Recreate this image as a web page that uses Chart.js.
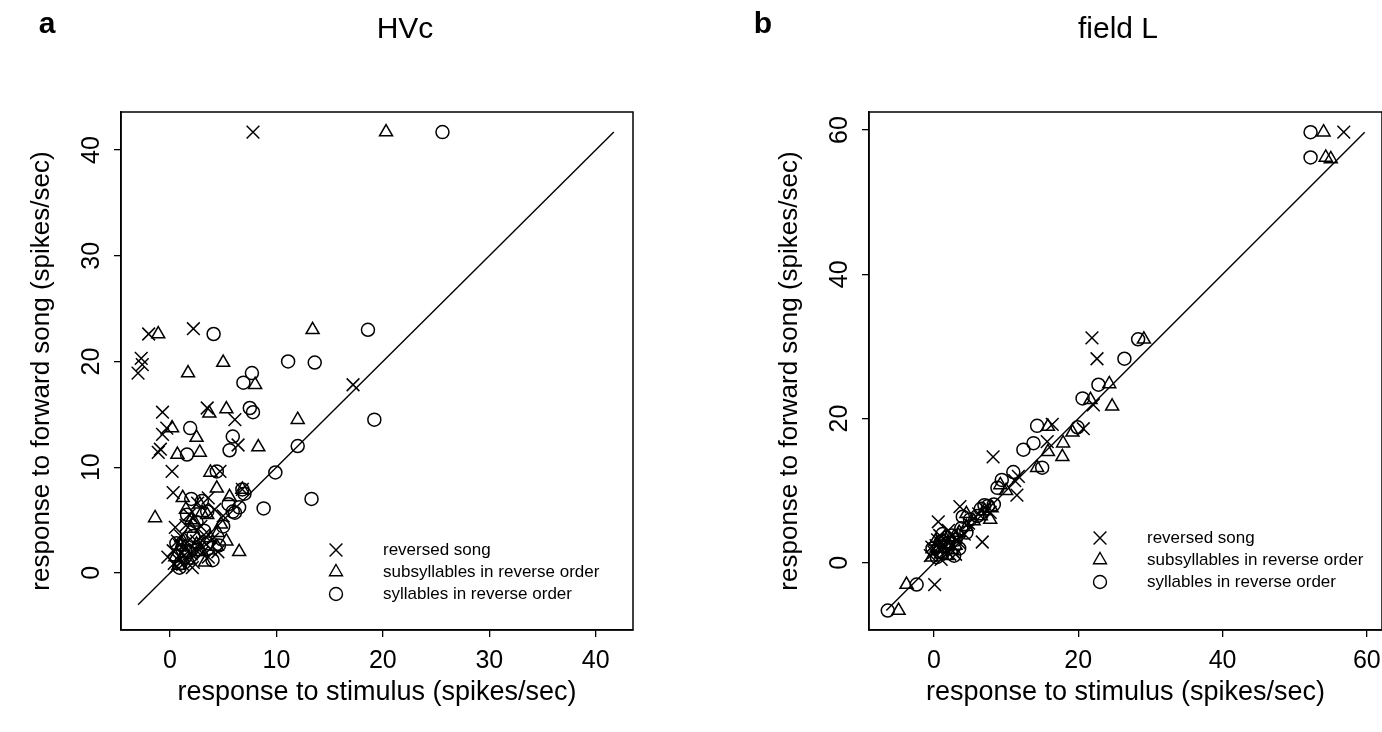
<!DOCTYPE html>
<html>
<head>
<meta charset="utf-8">
<script src="https://cdn.jsdelivr.net/npm/chart.js"></script>
<style>
html, body { margin: 0; padding: 0; background: #fff; overflow: hidden; width: 1382px; height: 732px; }
.panel { position: absolute; top: 0; height: 732px; }
</style>
</head>
<body>
<div class="panel" style="left:0px; width:691px"><canvas id="grafico-hvc" width="691" height="732"></canvas></div>
<div class="panel" style="left:691px; width:720px"><canvas id="grafico-fieldl" width="720" height="732"></canvas></div>
<script>
// ---- dati (spikes/sec) ----
// pannello a, HVc
var hvcRevX = [7.8, -2.0, 2.2, -2.7, -2.6, -3.0, -0.7, 3.5, 6.1, -0.3, -0.7, 6.4, -1.1, -0.9, 17.2, 0.2, 4.7, 6.8, 0.3, 3.6, 0.5, 1.0, 1.5, 0.3, 2.0, 2.5, 0.8, 1.2, 2.8, 3.2, 4.0, 1.8, 0.6, 2.2, 3.0, 0.9, 5.0, 4.2, 1.5, 2.6, 3.6, 3.8, -0.2, 1.3, 2.4, 0.4, 1.9, 3.4, 0.7, 2.9, 1.1, 4.5, 2.1];
var hvcRevY = [41.7, 22.6, 23.1, 20.3, 19.7, 18.9, 15.2, 15.6, 14.5, 13.7, 13.1, 12.1, 11.4, 11.7, 17.8, 9.6, 9.6, 7.9, 7.6, 1.5, 4.3, 3.5, 2.8, 2.1, 1.8, 3.0, 1.2, 0.8, 2.4, 3.6, 3.2, 5.5, 0.6, 1.0, 1.9, 2.6, 5.4, 6.0, 4.5, 6.6, 7.1, 2.3, 1.5, 1.6, 2.2, 0.9, 3.2, 2.7, 3.0, 4.4, 1.9, 2.0, 0.5];
var hvcSubX = [20.3, -1.1, 13.4, 1.7, 5.0, 8.0, 3.7, 5.3, 0.2, 2.5, 0.7, 2.8, 8.3, 12.0, 6.5, -1.4, 3.8, 1.2, 4.4, 6.8, 3.0, 4.4, 5.6, 1.5, 2.8, 3.5, 2.0, 4.5, 5.3, 1.0, 3.0, 1.8, 0.5, 2.3, 1.2, 2.5, 0.8, 3.8, 2.0, 4.8, 1.5, 3.3];
var hvcSubY = [41.7, 22.6, 23.0, 18.9, 19.9, 17.8, 15.1, 15.5, 13.7, 12.8, 11.2, 11.4, 11.9, 14.5, 2.0, 5.2, 9.5, 7.1, 8.0, 7.9, 5.7, 2.5, 7.2, 6.0, 6.5, 5.5, 4.2, 3.8, 3.0, 2.5, 2.0, 1.2, 1.5, 4.8, 3.0, 2.7, 0.7, 3.3, 5.0, 4.6, 1.9, 1.0];
var hvcSylX = [25.6, 4.1, 18.6, 11.1, 13.6, 7.7, 6.9, 7.5, 7.8, 1.9, 5.9, 5.6, 1.6, 19.2, 12.0, 9.9, 13.3, 8.8, 4.4, 6.8, 6.1, 5.0, 1.6, 5.9, 2.0, 3.0, 5.5, 6.5, 2.5, 1.8, 3.5, 1.0, 4.0, 7.0, 1.4, 2.6, 0.6, 3.2, 2.2, 4.6, 0.9, 3.5];
var hvcSylY = [41.7, 22.6, 23.0, 20.0, 19.9, 18.9, 18.0, 15.6, 15.2, 13.7, 12.9, 11.6, 11.2, 14.5, 12.0, 9.5, 7.0, 6.1, 9.6, 7.9, 5.7, 4.4, 5.5, 5.8, 7.0, 6.8, 6.5, 6.2, 4.8, 2.0, 2.8, 0.9, 1.2, 7.5, 1.5, 2.2, 2.8, 4.0, 3.5, 2.6, 0.5, 5.8];
var hvcDiag = [-3.0, 41.7];
var hvcTicks = [0, 10, 20, 30, 40];

// pannello b, field L
var flRevX = [56.8, 21.9, 22.6, 22.1, 20.7, 16.4, 15.7, 8.2, 11.7, 11.2, 11.5, 6.2, 7.8, 6.7, 3.6, 0.6, 0.0, 0.5, 1.5, 2.5, 3.0, -0.5, 1.0, 2.0, 0.3, 0.1, 4.8, 1.2, 2.2, 0.8, 3.5, -0.3, 4.2, 1.8, 7.0];
var flRevY = [59.7, 31.2, 28.3, 21.9, 18.6, 19.2, 16.8, 14.7, 12.0, 11.4, 9.4, 6.8, 7.0, 2.9, 7.8, 5.7, 1.5, 3.2, 2.5, 3.8, 1.2, 1.0, 0.5, 4.5, 2.4, -3.0, 5.5, 1.8, 1.2, 3.8, 2.8, 2.2, 4.0, 3.0, 7.6];
var flSubX = [54.0, 54.3, 55.0, 21.7, 24.7, 19.2, 15.8, 17.9, 17.8, 15.8, 14.3, 9.2, 7.0, 8.0, 7.8, 4.5, 0.5, 1.5, 2.5, 3.5, -0.3, 1.8, 4.5, -3.8, -4.9, 29.1, 24.3, 10.0, 1.0, 2.0, 3.0, 0.2, 5.5, 2.8, 6.5];
var flSubY = [59.7, 56.2, 56.0, 22.6, 21.7, 18.1, 18.9, 16.6, 14.7, 15.4, 13.2, 10.8, 7.2, 7.6, 6.0, 6.8, 2.0, 3.5, 1.8, 4.2, 0.8, 1.0, 5.0, -3.0, -6.6, 31.0, 24.8, 10.0, 1.2, 2.6, 2.4, 3.0, 5.8, 3.6, 6.5];
var flSylX = [52.2, 52.2, 28.3, 26.4, 22.8, 20.6, 19.9, 14.3, 12.4, 13.8, 15.0, 9.4, 11.0, 8.8, 6.5, 7.5, 8.3, 4.0, 5.0, 0.8, 2.0, 3.0, 1.2, -0.2, 2.8, 3.8, -2.4, -6.4, 1.5, 2.5, 0.4, 3.5, 4.5, 6.0, 1.0, 7.0];
var flSylY = [59.7, 56.2, 31.0, 28.3, 24.7, 22.8, 18.8, 19.0, 15.7, 16.6, 13.2, 11.5, 12.6, 10.4, 7.5, 7.9, 8.1, 6.4, 6.0, 1.5, 2.8, 3.2, 4.0, 2.0, 1.0, 4.8, -3.0, -6.6, 2.2, 3.8, 0.8, 2.0, 4.2, 6.5, 3.0, 8.0];
var flDiag = [-6.6, 59.7];
var flTicks = [0, 20, 40, 60];

var legendLabels = ['reversed song', 'subsyllables in reverse order', 'syllables in reverse order'];
var FONT = '"Liberation Sans", Arial, Helvetica, sans-serif';

function punti(xs, ys) {
    var out = [];
    for (var i = 0; i < xs.length; i++) {
        out.push({ x: xs[i], y: ys[i] });
    }
    return out;
}

function serie(label, xs, ys, stile, raggio) {
    return {
        label: label,
        data: punti(xs, ys),
        pointStyle: stile,
        pointRadius: raggio,
        pointHoverRadius: raggio,
        borderColor: '#000',
        backgroundColor: 'rgba(0,0,0,0)',
        pointBorderWidth: 1.5,
        borderWidth: 1.5,
        showLine: false
    };
}

// disegna lettera, titolo, cornice e legenda
function decorazioni(p) {
    return {
        id: 'decorazioni',
        afterDraw: function (chart) {
            var ctx = chart.ctx;
            var a = chart.chartArea;
            ctx.save();
            ctx.strokeStyle = '#000';
            ctx.lineWidth = 1.5;
            ctx.strokeRect(a.left, a.top, a.right - a.left, a.bottom - a.top);

            ctx.fillStyle = '#000';
            ctx.textAlign = 'center';
            ctx.textBaseline = 'middle';
            ctx.font = 'bold 30px ' + FONT;
            ctx.fillText(p.letter, p.letterX, 25);
            ctx.font = '30px ' + FONT;
            ctx.fillText(p.title, p.titleX, 30);

            // legenda
            ctx.lineWidth = 1.4;
            ctx.font = '17px ' + FONT;
            ctx.textAlign = 'left';
            for (var i = 0; i < legendLabels.length; i++) {
                var y = p.legY + i * 22;
                var x = p.legX;
                ctx.beginPath();
                if (i === 0) {
                    ctx.moveTo(x - 6.4, y - 6.4); ctx.lineTo(x + 6.4, y + 6.4);
                    ctx.moveTo(x - 6.4, y + 6.4); ctx.lineTo(x + 6.4, y - 6.4);
                } else if (i === 1) {
                    ctx.moveTo(x, y - 7.5);
                    ctx.lineTo(x + 6.5, y + 3.75);
                    ctx.lineTo(x - 6.5, y + 3.75);
                    ctx.closePath();
                } else {
                    ctx.arc(x, y, 6.5, 0, Math.PI * 2);
                }
                ctx.stroke();
                ctx.fillText(legendLabels[i], p.textX, y);
            }
            ctx.restore();
        }
    };
}

function grafico(id, p) {
    var ctx = document.getElementById(id);
    return new Chart(ctx, {
        type: 'scatter',
        data: {
            datasets: [
                serie(legendLabels[0], p.rx, p.ry, 'crossRot', 9),
                serie(legendLabels[1], p.sx, p.sy, 'triangle', 7.5),
                serie(legendLabels[2], p.cx, p.cy, 'circle', 6.5),
                {
                    type: 'line',
                    data: punti(p.diag, p.diag),
                    borderColor: '#000',
                    borderWidth: 1.4,
                    pointRadius: 0,
                    showLine: true,
                    fill: false
                }
            ]
        },
        options: {
            responsive: false,
            animation: false,
            devicePixelRatio: 1,
            layout: { padding: { left: 0, right: p.padRight, top: 112, bottom: 0 } },
            plugins: { legend: { display: false }, tooltip: { enabled: false } },
            scales: {
                x: {
                    type: 'linear',
                    min: p.xMin,
                    max: p.xMax,
                    afterBuildTicks: function (s) { s.ticks = p.ticks.map(function (v) { return { value: v }; }); },
                    afterFit: function (s) { s.height = 102; },
                    grid: { drawOnChartArea: false, drawTicks: true, tickLength: 7, color: '#000', lineWidth: 1.3 },
                    border: { display: true, color: '#000', width: 1.5 },
                    ticks: { color: '#000', font: { family: FONT, size: 25 }, padding: 9, maxRotation: 0, autoSkip: false },
                    title: { display: true, text: 'response to stimulus (spikes/sec)', color: '#000', font: { family: FONT, size: 27 }, padding: { top: 0, bottom: 23 } }
                },
                y: {
                    type: 'linear',
                    min: p.yMin,
                    max: p.yMax,
                    afterBuildTicks: function (s) { s.ticks = p.ticks.map(function (v) { return { value: v }; }); },
                    afterFit: function (s) { s.width = p.axisLeft; },
                    grid: { drawOnChartArea: false, drawTicks: true, tickLength: 7, color: '#000', lineWidth: 1.3 },
                    border: { display: true, color: '#000', width: 1.5 },
                    ticks: { color: '#000', font: { family: FONT, size: 25 }, padding: 8, minRotation: 90, maxRotation: 90, crossAlign: 'center', autoSkip: false },
                    title: { display: true, text: 'response to forward song (spikes/sec)', color: '#000', font: { family: FONT, size: 26 }, padding: { top: p.yTitlePad, bottom: 0 } }
                }
            }
        },
        plugins: [decorazioni(p)]
    });
}

grafico('grafico-hvc', {
    rx: hvcRevX, ry: hvcRevY, sx: hvcSubX, sy: hvcSubY, cx: hvcSylX, cy: hvcSylY,
    diag: hvcDiag, ticks: hvcTicks,
    xMin: -4.6, xMax: 43.5, yMin: -5.4, yMax: 43.6,
    axisLeft: 121, padRight: 58, yTitlePad: 26,
    letter: 'a', letterX: 47, title: 'HVc', titleX: 405,
    legX: 336, legY: 550, textX: 383
});

grafico('grafico-fieldl', {
    rx: flRevX, ry: flRevY, sx: flSubX, sy: flSubY, cx: flSylX, cy: flSylY,
    diag: flDiag, ticks: flTicks,
    xMin: -9.0, xMax: 62.1, yMin: -9.3, yMax: 62.5,
    axisLeft: 178, padRight: 29, yTitlePad: 83,
    letter: 'b', letterX: 72, title: 'field L', titleX: 427,
    legX: 409, legY: 538, textX: 456
});
</script>
</body>
</html>
